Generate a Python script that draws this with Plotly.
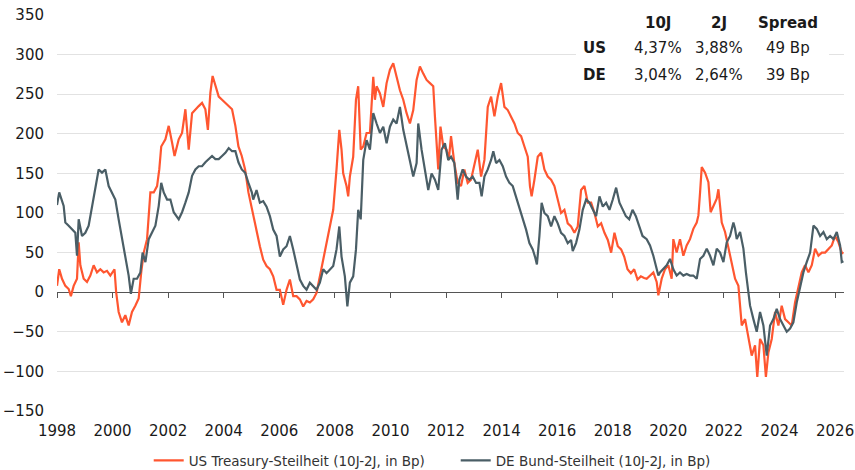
import pandas as pd
import plotly.graph_objects as go

# ---- data (decimal years, basis points) ----
us_years = [1998.00, 1998.08, 1998.18, 1998.30, 1998.42, 1998.50, 1998.60, 1998.72, 1998.78, 1998.84,
            1998.96, 1999.08, 1999.20, 1999.32, 1999.44, 1999.56, 1999.68, 1999.80, 1999.92, 2000.07,
            2000.13, 2000.22, 2000.34, 2000.46, 2000.58, 2000.70, 2000.82, 2000.94, 2001.03, 2001.12,
            2001.24, 2001.36, 2001.48, 2001.60, 2001.68, 2001.75, 2001.90, 2002.02, 2002.14, 2002.23,
            2002.38, 2002.50, 2002.62, 2002.74, 2002.86, 2002.98, 2003.10, 2003.22, 2003.34, 2003.43,
            2003.52, 2003.60, 2003.70, 2003.82, 2003.94, 2004.06, 2004.18, 2004.30, 2004.42, 2004.53,
            2004.65, 2004.77, 2004.89, 2005.01, 2005.08, 2005.18, 2005.30, 2005.42, 2005.54, 2005.66,
            2005.78, 2005.90, 2006.02, 2006.14, 2006.26, 2006.38, 2006.50, 2006.62, 2006.74, 2006.86,
            2006.98, 2007.10, 2007.22, 2007.34, 2007.46, 2007.58, 2007.70, 2007.82, 2007.94, 2008.06,
            2008.16, 2008.24, 2008.30, 2008.42, 2008.48, 2008.54, 2008.66, 2008.76, 2008.84, 2008.93,
            2009.02, 2009.14, 2009.26, 2009.38, 2009.44, 2009.50, 2009.62, 2009.74, 2009.86, 2009.98,
            2010.10, 2010.22, 2010.34, 2010.46, 2010.58, 2010.70, 2010.82, 2010.94, 2011.06, 2011.18,
            2011.30, 2011.42, 2011.54, 2011.60, 2011.66, 2011.72, 2011.80, 2011.90, 2012.02, 2012.10,
            2012.18, 2012.30, 2012.42, 2012.54, 2012.66, 2012.78, 2012.90, 2013.02, 2013.14, 2013.26,
            2013.38, 2013.50, 2013.62, 2013.74, 2013.86, 2013.98, 2014.10, 2014.22, 2014.34, 2014.46,
            2014.58, 2014.70, 2014.82, 2014.94, 2015.02, 2015.08, 2015.18, 2015.30, 2015.42, 2015.54,
            2015.66, 2015.78, 2015.90, 2016.02, 2016.14, 2016.26, 2016.38, 2016.50, 2016.62, 2016.74,
            2016.86, 2016.98, 2017.10, 2017.22, 2017.34, 2017.46, 2017.58, 2017.70, 2017.82, 2017.94,
            2018.06, 2018.18, 2018.30, 2018.41, 2018.53, 2018.65, 2018.77, 2018.89, 2019.01, 2019.13,
            2019.22, 2019.46, 2019.58, 2019.64, 2019.76, 2019.88, 2020.00, 2020.12, 2020.18, 2020.30,
            2020.42, 2020.54, 2020.66, 2020.78, 2020.90, 2021.02, 2021.08, 2021.14, 2021.20, 2021.32,
            2021.44, 2021.52, 2021.62, 2021.74, 2021.80, 2021.92, 2022.04, 2022.16, 2022.28, 2022.40,
            2022.52, 2022.64, 2022.76, 2022.88, 2023.00, 2023.12, 2023.20, 2023.30, 2023.42, 2023.51,
            2023.60, 2023.72, 2023.84, 2023.96, 2024.08, 2024.20, 2024.32, 2024.44, 2024.56, 2024.68,
            2024.80, 2024.92, 2025.04, 2025.16, 2025.28, 2025.40, 2025.52, 2025.64, 2025.76, 2025.88,
            2026.00, 2026.12, 2026.24, 2026.30]
us_values = [8, 29, 17, 8, 4, -5, 8, 17, 63, 34,
             17, 13, 21, 34, 25, 29, 25, 27, 21, 29,
             0, -25, -38, -29, -42, -25, -17, -8, 25, 50,
             67, 126, 126, 134, 155, 184, 193, 210, 189, 172,
             193, 201, 231, 180, 226, 231, 235, 239, 231, 205,
             252, 273, 260, 247, 243, 239, 235, 231, 210, 184,
             172, 155, 126, 105, 96, 75, 58, 41, 33, 29,
             20, 3, 3, -16, 3, 16, -5, -5, -9, -18,
             -11, -13, -9, -1, 20, 45, 62, 83, 104, 155,
             205, 180, 150, 134, 121, 146, 171, 243, 260, 180,
             184, 201, 201, 272, 243, 260, 251, 234, 264, 281,
             289, 272, 255, 243, 226, 213, 230, 268, 285, 276,
             268, 264, 260, 222, 180, 155, 209, 184, 180, 167,
             197, 163, 138, 134, 155, 138, 142, 163, 180, 146,
             167, 234, 247, 222, 247, 264, 234, 230, 222, 213,
             201, 197, 184, 171, 134, 121, 142, 171, 176, 155,
             146, 142, 134, 117, 100, 104, 87, 83, 75, 83,
             129, 134, 113, 113, 100, 83, 87, 75, 66, 50,
             75, 58, 54, 45, 29, 24, 29, 16, 20, 18,
             17, 25, 13, -4, 17, 29, 34, 17, 67, 50,
             67, 46, 59, 67, 80, 88, 97, 126, 158, 151,
             139, 101, 109, 118, 130, 88, 76, 55, 34, 17,
             8, -42, -34, -59, -80, -67, -107, -59, -67, -107,
             -76, -59, -25, -42, -17, -34, -38, -42, -13, 8,
             25, 34, 25, 34, 55, 46, 50, 50, 55, 59,
             71, 63, 50, 49]

de_years = [1998.00, 1998.08, 1998.24, 1998.30, 1998.42, 1998.54, 1998.66, 1998.72, 1998.78, 1998.90,
            1999.02, 1999.14, 1999.26, 1999.38, 1999.50, 1999.62, 1999.74, 1999.86, 1999.98, 2000.10,
            2000.22, 2000.34, 2000.46, 2000.58, 2000.66, 2000.76, 2000.88, 2001.00, 2001.08, 2001.18,
            2001.30, 2001.42, 2001.54, 2001.66, 2001.75, 2001.84, 2001.96, 2002.08, 2002.20, 2002.38,
            2002.50, 2002.62, 2002.74, 2002.86, 2002.98, 2003.10, 2003.22, 2003.34, 2003.46, 2003.58,
            2003.70, 2003.82, 2003.94, 2004.06, 2004.18, 2004.30, 2004.42, 2004.53, 2004.65, 2004.77,
            2004.89, 2005.01, 2005.06, 2005.18, 2005.30, 2005.42, 2005.54, 2005.66, 2005.78, 2005.90,
            2006.02, 2006.14, 2006.26, 2006.38, 2006.50, 2006.62, 2006.74, 2006.86, 2006.98, 2007.10,
            2007.22, 2007.34, 2007.46, 2007.58, 2007.70, 2007.82, 2007.94, 2008.06, 2008.16, 2008.24,
            2008.36, 2008.45, 2008.54, 2008.66, 2008.76, 2008.84, 2008.93, 2009.02, 2009.14, 2009.26,
            2009.38, 2009.50, 2009.62, 2009.74, 2009.86, 2009.98, 2010.10, 2010.22, 2010.34, 2010.46,
            2010.58, 2010.70, 2010.82, 2010.94, 2011.00, 2011.12, 2011.24, 2011.36, 2011.48, 2011.60,
            2011.72, 2011.84, 2011.96, 2012.08, 2012.18, 2012.30, 2012.42, 2012.48, 2012.60, 2012.72,
            2012.84, 2012.96, 2013.08, 2013.20, 2013.28, 2013.38, 2013.50, 2013.62, 2013.70, 2013.80,
            2013.92, 2014.04, 2014.16, 2014.28, 2014.40, 2014.52, 2014.64, 2014.76, 2014.88, 2015.00,
            2015.12, 2015.20, 2015.27, 2015.36, 2015.44, 2015.54, 2015.66, 2015.78, 2015.90, 2016.02,
            2016.14, 2016.26, 2016.38, 2016.50, 2016.56, 2016.68, 2016.80, 2016.92, 2017.04, 2017.16,
            2017.28, 2017.40, 2017.52, 2017.64, 2017.76, 2017.88, 2018.00, 2018.12, 2018.24, 2018.36,
            2018.47, 2018.59, 2018.71, 2018.83, 2018.95, 2019.07, 2019.22, 2019.34, 2019.46, 2019.58,
            2019.64, 2019.70, 2019.82, 2019.94, 2020.06, 2020.18, 2020.30, 2020.42, 2020.54, 2020.66,
            2020.78, 2020.90, 2021.02, 2021.14, 2021.26, 2021.38, 2021.50, 2021.62, 2021.74, 2021.86,
            2021.98, 2022.10, 2022.22, 2022.34, 2022.40, 2022.46, 2022.58, 2022.70, 2022.79, 2022.84,
            2022.94, 2023.06, 2023.18, 2023.30, 2023.42, 2023.54, 2023.66, 2023.78, 2023.90, 2024.02,
            2024.14, 2024.26, 2024.38, 2024.50, 2024.62, 2024.74, 2024.86, 2024.98, 2025.10, 2025.22,
            2025.34, 2025.46, 2025.58, 2025.70, 2025.82, 2025.94, 2026.06, 2026.18, 2026.24, 2026.30]
de_values = [110, 126, 109, 88, 84, 80, 75, 46, 92, 71,
             75, 84, 109, 134, 155, 151, 155, 134, 126, 117,
             92, 67, 42, 21, -2, 17, 17, 25, 50, 38,
             67, 75, 84, 109, 138, 126, 117, 117, 101, 92,
             101, 113, 126, 147, 155, 159, 159, 164, 168, 172,
             168, 168, 172, 176, 182, 178, 178, 164, 155, 151,
             138, 126, 117, 129, 113, 115, 108, 96, 79, 71,
             45, 54, 58, 71, 54, 33, 16, 8, 3, 12,
             8, 3, 12, 29, 24, 29, 33, 54, 83, 45,
             20, -18, 12, 20, 54, 104, 92, 167, 192, 180,
             226, 213, 201, 209, 188, 209, 218, 213, 234, 205,
             184, 163, 146, 163, 213, 180, 155, 129, 150, 142,
             129, 180, 188, 167, 171, 163, 117, 142, 155, 146,
             142, 146, 138, 138, 121, 146, 155, 167, 178, 163,
             167, 159, 146, 138, 134, 121, 108, 92, 79, 62,
             54, 45, 35, 71, 113, 100, 96, 83, 96, 87,
             75, 71, 62, 66, 52, 62, 79, 104, 117, 113,
             104, 96, 121, 108, 113, 104, 117, 132, 113, 104,
             96, 92, 104, 96, 83, 71, 67, 59, 46, 29,
             21, 25, 29, 34, 42, 29, 21, 25, 21, 23,
             21, 21, 17, 42, 46, 55, 46, 34, 55, 50,
             38, 63, 71, 88, 80, 67, 76, 55, 25, 13,
             -17, -34, -50, -25, -42, -80, -42, -34, -21, -34,
             -42, -50, -46, -38, -13, 4, 25, 38, 50, 84,
             80, 71, 76, 67, 71, 67, 76, 59, 38, 39]

series_names = ["US Treasury-Steilheit (10J-2J, in Bp)", "DE Bund-Steilheit (10J-2J, in Bp)"]
series_colors = ["#FF5630", "#4A5E66"]

table_header = ["10J", "2J", "Spread"]
table_rows = ["US", "DE"]
table_cells = [["4,37%", "3,88%", "49 Bp"],
               ["3,04%", "2,64%", "39 Bp"]]

y_ticks = [-150, -100, -50, 0, 50, 100, 150, 200, 250, 300, 350]


def to_date(y):
    yr = int(y)
    return pd.Timestamp(yr, 1, 1) + pd.Timedelta(days=(y - yr) * 365.25)


us_dates = [to_date(y) for y in us_years]
de_dates = [to_date(y) for y in de_years]

FONT = "DejaVu Sans"
TXT = "#1a1a1a"

fig = go.Figure()
fig.add_trace(go.Scatter(x=us_dates, y=us_values, mode="lines", name=series_names[0],
                         line=dict(color=series_colors[0], width=2.2), xaxis="x", yaxis="y"))
fig.add_trace(go.Scatter(x=de_dates, y=de_values, mode="lines", name=series_names[1],
                         line=dict(color=series_colors[1], width=2.2), xaxis="x2", yaxis="y"))

x_range = [to_date(1998.0), to_date(2026.32)]

fig.update_layout(
    width=855, height=470,
    margin=dict(l=57, r=11, t=15, b=59, autoexpand=False),
    paper_bgcolor="white", plot_bgcolor="white",
    font=dict(family=FONT, size=15, color=TXT),
    xaxis=dict(type="date", range=x_range, tick0="1998-01-01", dtick="M24", tickformat="%Y",
               showgrid=False, zeroline=False, showline=False, ticks="",
               ticklabelstandoff=9, tickfont=dict(size=15, family=FONT, color=TXT)),
    xaxis2=dict(type="date", range=x_range, matches="x", overlaying="x", anchor="free", position=0.3,
                tick0="1998-01-01", dtick="M24", showticklabels=False, showgrid=False,
                zeroline=False, showline=False, ticks="outside", ticklen=5, tickwidth=1,
                tickcolor="#555555"),
    yaxis=dict(range=[-150, 350], tickvals=y_ticks, showgrid=True, gridcolor="#e2e2e2", gridwidth=1,
               zeroline=True, zerolinecolor="#555555", zerolinewidth=1, showline=False,
               ticklabelstandoff=12, tickfont=dict(size=15, family=FONT, color=TXT)),
    legend=dict(orientation="h", xref="container", yref="container", x=0.533, xanchor="center",
                y=0.02, yanchor="middle", entrywidth=262, entrywidthmode="pixels",
                font=dict(size=13.5, family=FONT, color="#333333"),
                bgcolor="rgba(0,0,0,0)"),
    showlegend=True,
)

# white box behind the table
fig.add_shape(type="rect", xref="paper", yref="paper", x0=0.6595, x1=0.981, y0=0.81, y1=1.04,
              fillcolor="white", line=dict(width=0), layer="above")

col_x = [0.764, 0.841, 0.929]
row_y = [0.917, 0.848]
header_y = 0.980
for cx, h in zip(col_x, table_header):
    fig.add_annotation(xref="paper", yref="paper", x=cx, y=header_y, text="<b>" + h + "</b>",
                       showarrow=False, xanchor="center", yanchor="middle",
                       font=dict(size=15, family=FONT, color=TXT))
for ry, rname, cells in zip(row_y, table_rows, table_cells):
    fig.add_annotation(xref="paper", yref="paper", x=0.666, y=ry, text="<b>" + rname + "</b>",
                       showarrow=False, xanchor="left", yanchor="middle",
                       font=dict(size=15, family=FONT, color=TXT))
    for cx, c in zip(col_x, cells):
        fig.add_annotation(xref="paper", yref="paper", x=cx, y=ry, text=c,
                           showarrow=False, xanchor="center", yanchor="middle",
                           font=dict(size=15, family=FONT, color=TXT))

fig.write_html("out.html", config={"displayModeBar": False},
               post_script="document.body.style.margin='0';document.body.style.padding='0';")
